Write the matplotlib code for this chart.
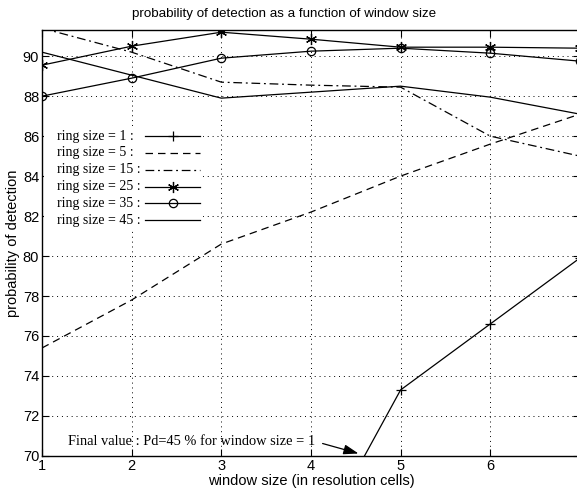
import matplotlib
matplotlib.use("Agg")
import matplotlib.pyplot as plt
from matplotlib.patches import Rectangle

window = [1, 2, 3, 4, 5, 6, 7]
ring1 = [45.0, 54.0, 60.5, 65.1, 73.3, 76.6, 79.9]
ring5 = [75.4, 77.8, 80.6, 82.2, 84.0, 85.6, 87.1]
ring15 = [91.4, 90.2, 88.7, 88.55, 88.45, 86.0, 85.0]
ring25 = [89.55, 90.5, 91.2, 90.85, 90.45, 90.45, 90.4]
ring35 = [88.0, 88.9, 89.9, 90.25, 90.4, 90.15, 89.75]
ring45 = [90.2, 89.05, 87.9, 88.2, 88.5, 87.95, 87.1]
labels = ["ring size = 1 :", "ring size = 5 :", "ring size = 15 :",
          "ring size = 25 :", "ring size = 35 :", "ring size = 45 :"]
title = "probability of detection as a function of window size"
xlabel = "window size (in resolution cells)"
ylabel = "probability of detection"
note = "Final value : Pd=45 % for window size = 1"

sans = "Liberation Sans"
serif = "Liberation Serif"

fig = plt.figure(figsize=(5.77, 4.95), dpi=100)
ax = fig.add_axes([0.0728, 0.079, 1.005 - 0.0728, 0.939 - 0.079])

lw = 0.9
styles = [
    dict(marker="+", ms=7, mew=0.9, ls="-"),
    dict(ls=(0, (6, 4))),
    dict(ls=(0, (7, 3, 1.5, 3))),
    dict(marker=(6, 2, 0), ms=8, mew=0.9, ls="-"),
    dict(marker="o", ms=6, mfc="none", mew=0.9, ls="-"),
    dict(ls="-"),
]
series = [ring1, ring5, ring15, ring25, ring35, ring45]
for vals, st in zip(series, styles):
    ax.plot(window, vals, color="k", lw=lw, **st)

ax.set_xlim(1, 7)
ax.set_ylim(70, 91.3)
ax.set_xticks(window)
ax.set_yticks(range(70, 91, 2))
ax.grid(True, color="k", ls=(0, (1, 4)), lw=0.7)
ax.tick_params(direction="in", length=5, width=0.8, top=True, right=True,
               labelsize=10.5, pad=2)
for lab in ax.get_xticklabels() + ax.get_yticklabels():
    lab.set_family(sans)
for s in ax.spines.values():
    s.set_linewidth(1.0)

fig.text(0.492, 0.972, title, family=sans, fontsize=9.6, ha="center", va="center")
ax.set_xlabel(xlabel, family=sans, fontsize=10.5, labelpad=1)
ax.set_ylabel(ylabel, family=sans, fontsize=10.5, labelpad=2)

# MATLAB-style legend: text first, left aligned, sample line after, white box
ax.add_patch(Rectangle((0.004, 0.533), 0.295, 0.242, transform=ax.transAxes,
                       facecolor="white", edgecolor="none", zorder=3))
row0 = 0.751
dy = 16.8 / 426
for i, (lab, st) in enumerate(zip(labels, styles)):
    y = row0 - i * dy
    ax.text(0.028, y, lab, transform=ax.transAxes, family=serif, fontsize=10,
            va="center", ha="left", zorder=4)
    ax.plot([0.191, 0.294], [y, y], color="k", lw=lw, transform=ax.transAxes,
            ls=st.get("ls", "-"), zorder=4, clip_on=False)
    if "marker" in st:
        mst = {k: v for k, v in st.items() if k != "ls"}
        ax.plot([0.243], [y], color="k", transform=ax.transAxes, ls="none",
                zorder=4, clip_on=False, **mst)

ax.text(1.29, 70.72, note, fontsize=10.35, family=serif, va="center", ha="left")
ax.annotate("", xy=(4.53, 70.12), xytext=(4.13, 70.62),
            arrowprops=dict(arrowstyle="-|>,head_length=0.9,head_width=0.3",
                            color="k", lw=0.9, shrinkA=0, shrinkB=0))

fig.savefig("out.png", dpi=100)
